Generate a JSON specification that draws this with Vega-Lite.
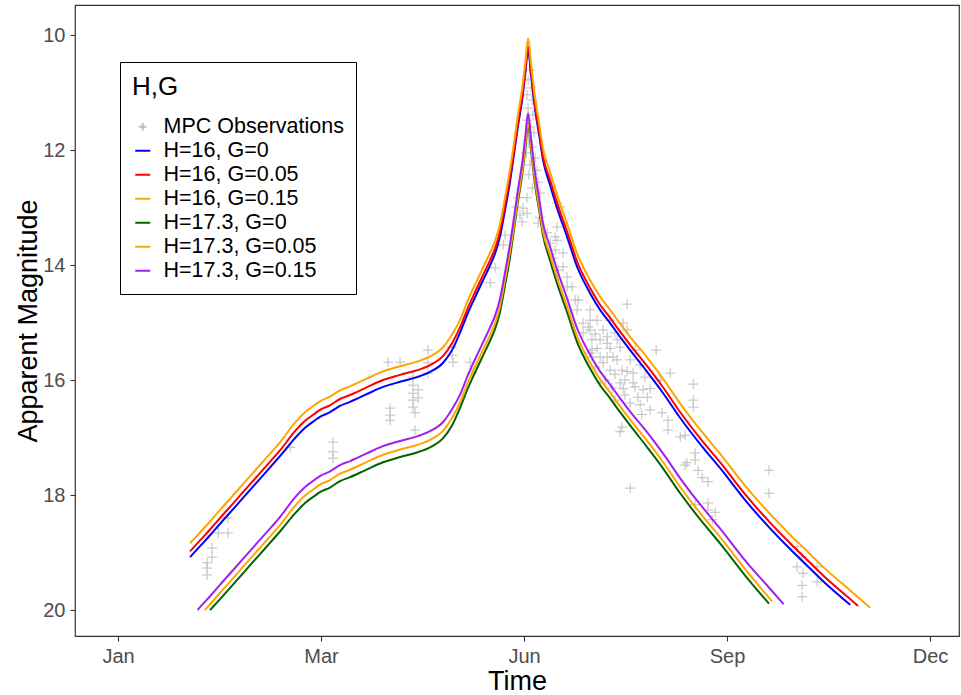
{
"$schema": "https://vega.github.io/schema/vega-lite/v6.json",
"width": 884, "height": 631,
"autosize": {"type": "none"},
"padding": {"left": 75, "top": 5, "right": 2, "bottom": 59},
"background": "white",
"config": {
  "font": "Liberation Sans",
  "view": {"stroke": "#333333", "strokeWidth": 1.2},
  "axis": {"grid": false, "domain": false, "tickColor": "#333333", "tickSize": 5, "tickWidth": 1.1, "labelColor": "#4D4D4D", "labelFontSize": 20, "labelFont": "Liberation Sans", "titleFont": "Liberation Sans", "titleFontSize": 27, "titleFontWeight": "normal", "titleColor": "black", "labelPadding": 5},
  "legend": {"titleFont": "Liberation Sans", "labelFont": "Liberation Sans", "titleFontSize": 26, "titleFontWeight": "normal", "titleColor": "black", "labelFontSize": 21.5, "labelColor": "black", "labelLimit": 400, "symbolSize": 225, "symbolStrokeWidth": 2, "rowPadding": 1, "padding": 12, "strokeColor": "black", "fillColor": "white", "cornerRadius": 0, "titlePadding": 16, "labelOffset": 10}
},
"datasets": {
"obs": [
{"day":32.9,"mag":19.18},{"day":32.9,"mag":19.27},{"day":32.9,"mag":19.39},{"day":34.7,"mag":18.92},{"day":34.7,"mag":19.08},{"day":37.0,"mag":18.66},{"day":40.6,"mag":18.40},{"day":40.6,"mag":18.66},
{"day":63.6,"mag":17.17},{"day":79.4,"mag":17.08},{"day":79.4,"mag":17.25},{"day":79.4,"mag":17.36},
{"day":99.8,"mag":15.69},{"day":104.2,"mag":15.69},{"day":100.5,"mag":16.49},{"day":100.5,"mag":16.61},{"day":100.5,"mag":16.70},
{"day":109.0,"mag":15.95},{"day":109.0,"mag":16.09},{"day":109.0,"mag":16.23},{"day":109.0,"mag":16.35},{"day":109.0,"mag":16.47},{"day":110.9,"mag":16.17},{"day":110.9,"mag":16.31},{"day":109.7,"mag":16.57},{"day":109.7,"mag":16.87},
{"day":114.5,"mag":15.48},{"day":114.5,"mag":15.70},{"day":114.5,"mag":15.88},{"day":123.4,"mag":15.43},{"day":123.4,"mag":15.57},{"day":123.8,"mag":15.69},{"day":130.1,"mag":15.69},{"day":130.8,"mag":15.88},
{"day":139.3,"mag":14.05},{"day":137.5,"mag":14.31},
{"day":152.2,"mag":10.61},{"day":151.5,"mag":10.78},{"day":152.6,"mag":10.92},{"day":151.1,"mag":11.04},{"day":153.0,"mag":11.13},{"day":151.5,"mag":11.27},{"day":153.3,"mag":11.39},{"day":151.1,"mag":11.48},{"day":152.2,"mag":11.60},{"day":153.7,"mag":11.70},{"day":151.5,"mag":11.83},{"day":153.0,"mag":11.95},{"day":150.8,"mag":12.05},{"day":154.1,"mag":12.14},{"day":152.2,"mag":12.26},{"day":154.8,"mag":12.35},{"day":151.8,"mag":12.43},{"day":155.2,"mag":12.56},{"day":153.0,"mag":12.66},{"day":155.9,"mag":12.75},{"day":151.1,"mag":12.83},
{"day":147.8,"mag":12.83},{"day":147.1,"mag":12.99},{"day":148.5,"mag":13.13},{"day":149.3,"mag":13.25},{"day":143.0,"mag":13.48},{"day":142.3,"mag":13.65},
{"day":162.2,"mag":12.92},{"day":163.3,"mag":12.99},{"day":162.2,"mag":13.34},{"day":162.2,"mag":13.57},{"day":155.9,"mag":13.17},{"day":149.6,"mag":13.01},{"day":151.1,"mag":13.10},
{"day":155.2,"mag":13.27},{"day":158.5,"mag":13.44},{"day":159.6,"mag":13.62},{"day":161.5,"mag":13.51},{"day":161.5,"mag":13.74},{"day":160.7,"mag":13.88},{"day":162.6,"mag":14.09},{"day":164.4,"mag":13.79},{"day":164.4,"mag":14.03},{"day":165.9,"mag":14.21},{"day":165.9,"mag":14.38},{"day":167.8,"mag":14.38},{"day":168.9,"mag":14.61},{"day":170.0,"mag":14.61},{"day":169.6,"mag":14.78},{"day":174.4,"mag":14.78},{"day":171.8,"mag":15.01},{"day":171.8,"mag":15.18},{"day":173.7,"mag":15.08},{"day":178.1,"mag":15.30},{"day":175.1,"mag":15.30},{"day":175.1,"mag":15.48},{"day":175.1,"mag":15.60},{"day":180.7,"mag":15.36},{"day":180.7,"mag":15.60},{"day":182.9,"mag":15.60},{"day":178.1,"mag":15.60},{"day":174.4,"mag":15.53},{"day":180.7,"mag":15.25},
{"day":177.0,"mag":14.96},{"day":179.2,"mag":15.13},{"day":181.8,"mag":14.96},{"day":183.6,"mag":15.18},{"day":185.5,"mag":15.43},{"day":184.4,"mag":15.65},{"day":186.2,"mag":15.83},{"day":187.3,"mag":16.00},{"day":181.8,"mag":15.83},{"day":180.0,"mag":16.00},{"day":182.5,"mag":16.14},{"day":189.2,"mag":15.65},{"day":190.3,"mag":15.88},{"day":191.0,"mag":16.12},{"day":192.1,"mag":16.30},{"day":194.0,"mag":16.17},{"day":194.7,"mag":15.95},{"day":192.9,"mag":16.43},{"day":195.5,"mag":16.30},{"day":196.6,"mag":16.52},{"day":188.1,"mag":14.68},{"day":186.6,"mag":15.01},{"day":188.1,"mag":15.13},{"day":174.4,"mag":14.96},{"day":174.4,"mag":15.13},{"day":176.3,"mag":15.77},{"day":178.1,"mag":16.05},{"day":183.6,"mag":16.35},{"day":187.3,"mag":16.26},{"day":191.0,"mag":15.48},{"day":192.9,"mag":15.74},{"day":185.5,"mag":16.05},
{"day":176.3,"mag":15.20},{"day":177.0,"mag":15.45},{"day":179.2,"mag":15.70},{"day":183.6,"mag":15.90},{"day":186.6,"mag":16.15},{"day":189.2,"mag":16.40},{"day":190.3,"mag":16.05},{"day":184.4,"mag":15.30},{"day":181.8,"mag":15.45},{"day":188.1,"mag":15.85},{"day":193.5,"mag":16.60},{"day":196.6,"mag":16.15},
{"day":198.8,"mag":15.48},{"day":204.0,"mag":15.88},{"day":212.5,"mag":16.07},{"day":212.5,"mag":16.35},{"day":212.5,"mag":16.47},{"day":200.3,"mag":16.00},{"day":201.0,"mag":16.57},{"day":203.2,"mag":16.70},{"day":203.2,"mag":16.87},{"day":207.7,"mag":16.99},{"day":209.5,"mag":16.96},{"day":186.2,"mag":16.82},{"day":185.5,"mag":16.90},{"day":189.2,"mag":17.88},
{"day":210.2,"mag":17.44},{"day":213.2,"mag":17.39},{"day":213.2,"mag":17.27},{"day":214.3,"mag":17.57},{"day":209.5,"mag":17.48},{"day":215.8,"mag":17.70},{"day":218.0,"mag":17.77},{"day":218.0,"mag":18.14},{"day":218.0,"mag":18.26},{"day":220.6,"mag":18.30},{"day":213.2,"mag":18.17},{"day":219.5,"mag":18.43},
{"day":240.5,"mag":17.57},{"day":240.5,"mag":17.97},{"day":250.9,"mag":18.90},{"day":252.7,"mag":19.08},{"day":250.9,"mag":19.25},{"day":253.1,"mag":19.36},{"day":252.7,"mag":19.57},{"day":252.7,"mag":19.77},{"day":258.3,"mag":19.25},{"day":258.3,"mag":19.51}
],
"curves": [
{"series":"H=16, G=0","day":26.6,"mag":19.08},{"series":"H=16, G=0","day":30.3,"mag":18.89},{"series":"H=16, G=0","day":34.0,"mag":18.70},{"series":"H=16, G=0","day":37.7,"mag":18.50},{"series":"H=16, G=0","day":43.2,"mag":18.21},{"series":"H=16, G=0","day":48.8,"mag":17.91},{"series":"H=16, G=0","day":54.3,"mag":17.62},{"series":"H=16, G=0","day":59.9,"mag":17.32},{"series":"H=16, G=0","day":65.4,"mag":17.01},{"series":"H=16, G=0","day":69.1,"mag":16.83},{"series":"H=16, G=0","day":72.8,"mag":16.70},{"series":"H=16, G=0","day":74.6,"mag":16.64},{"series":"H=16, G=0","day":78.3,"mag":16.56},{"series":"H=16, G=0","day":82.0,"mag":16.45},{"series":"H=16, G=0","day":85.7,"mag":16.38},{"series":"H=16, G=0","day":91.3,"mag":16.26},{"series":"H=16, G=0","day":97.9,"mag":16.12},{"series":"H=16, G=0","day":104.2,"mag":16.03},{"series":"H=16, G=0","day":110.5,"mag":15.95},{"series":"H=16, G=0","day":115.3,"mag":15.86},{"series":"H=16, G=0","day":120.1,"mag":15.70},{"series":"H=16, G=0","day":123.4,"mag":15.48},{"series":"H=16, G=0","day":126.4,"mag":15.17},{"series":"H=16, G=0","day":129.3,"mag":14.83},{"series":"H=16, G=0","day":131.9,"mag":14.56},{"series":"H=16, G=0","day":134.5,"mag":14.30},{"series":"H=16, G=0","day":137.5,"mag":14.00},{"series":"H=16, G=0","day":139.3,"mag":13.80},{"series":"H=16, G=0","day":141.1,"mag":13.51},{"series":"H=16, G=0","day":143.0,"mag":13.04},{"series":"H=16, G=0","day":144.8,"mag":12.56},{"series":"H=16, G=0","day":146.0,"mag":12.17},{"series":"H=16, G=0","day":147.8,"mag":11.57},{"series":"H=16, G=0","day":149.3,"mag":11.13},{"series":"H=16, G=0","day":150.4,"mag":10.70},{"series":"H=16, G=0","day":151.5,"mag":10.26},{"series":"H=16, G=0","day":152.6,"mag":10.70},{"series":"H=16, G=0","day":154.1,"mag":11.30},{"series":"H=16, G=0","day":155.6,"mag":11.74},{"series":"H=16, G=0","day":157.0,"mag":12.17},{"series":"H=16, G=0","day":159.6,"mag":12.61},{"series":"H=16, G=0","day":162.2,"mag":13.01},{"series":"H=16, G=0","day":165.9,"mag":13.51},{"series":"H=16, G=0","day":169.6,"mag":14.03},{"series":"H=16, G=0","day":174.4,"mag":14.49},{"series":"H=16, G=0","day":178.1,"mag":14.78},{"series":"H=16, G=0","day":181.8,"mag":15.01},{"series":"H=16, G=0","day":185.5,"mag":15.25},{"series":"H=16, G=0","day":189.2,"mag":15.48},{"series":"H=16, G=0","day":195.5,"mag":15.86},{"series":"H=16, G=0","day":201.4,"mag":16.23},{"series":"H=16, G=0","day":207.7,"mag":16.66},{"series":"H=16, G=0","day":216.2,"mag":17.18},{"series":"H=16, G=0","day":222.4,"mag":17.53},{"series":"H=16, G=0","day":231.7,"mag":18.09},{"series":"H=16, G=0","day":240.9,"mag":18.58},{"series":"H=16, G=0","day":248.3,"mag":18.94},{"series":"H=16, G=0","day":253.1,"mag":19.16},{"series":"H=16, G=0","day":261.2,"mag":19.53},{"series":"H=16, G=0","day":270.5,"mag":19.91},
{"series":"H=16, G=0.05","day":26.6,"mag":18.98},{"series":"H=16, G=0.05","day":30.3,"mag":18.79},{"series":"H=16, G=0.05","day":34.0,"mag":18.60},{"series":"H=16, G=0.05","day":37.7,"mag":18.40},{"series":"H=16, G=0.05","day":43.2,"mag":18.11},{"series":"H=16, G=0.05","day":48.8,"mag":17.81},{"series":"H=16, G=0.05","day":54.3,"mag":17.52},{"series":"H=16, G=0.05","day":59.9,"mag":17.22},{"series":"H=16, G=0.05","day":65.4,"mag":16.89},{"series":"H=16, G=0.05","day":69.1,"mag":16.71},{"series":"H=16, G=0.05","day":72.8,"mag":16.58},{"series":"H=16, G=0.05","day":74.6,"mag":16.52},{"series":"H=16, G=0.05","day":78.3,"mag":16.44},{"series":"H=16, G=0.05","day":82.0,"mag":16.33},{"series":"H=16, G=0.05","day":85.7,"mag":16.26},{"series":"H=16, G=0.05","day":91.3,"mag":16.14},{"series":"H=16, G=0.05","day":97.9,"mag":16.00},{"series":"H=16, G=0.05","day":104.2,"mag":15.91},{"series":"H=16, G=0.05","day":110.5,"mag":15.83},{"series":"H=16, G=0.05","day":115.3,"mag":15.74},{"series":"H=16, G=0.05","day":120.1,"mag":15.58},{"series":"H=16, G=0.05","day":123.4,"mag":15.36},{"series":"H=16, G=0.05","day":126.4,"mag":15.08},{"series":"H=16, G=0.05","day":129.3,"mag":14.74},{"series":"H=16, G=0.05","day":131.9,"mag":14.47},{"series":"H=16, G=0.05","day":134.5,"mag":14.21},{"series":"H=16, G=0.05","day":137.5,"mag":13.91},{"series":"H=16, G=0.05","day":139.3,"mag":13.71},{"series":"H=16, G=0.05","day":141.1,"mag":13.42},{"series":"H=16, G=0.05","day":143.0,"mag":12.95},{"series":"H=16, G=0.05","day":144.8,"mag":12.47},{"series":"H=16, G=0.05","day":146.0,"mag":12.11},{"series":"H=16, G=0.05","day":147.8,"mag":11.51},{"series":"H=16, G=0.05","day":149.3,"mag":11.07},{"series":"H=16, G=0.05","day":150.4,"mag":10.64},{"series":"H=16, G=0.05","day":151.5,"mag":10.20},{"series":"H=16, G=0.05","day":152.6,"mag":10.64},{"series":"H=16, G=0.05","day":154.1,"mag":11.24},{"series":"H=16, G=0.05","day":155.6,"mag":11.68},{"series":"H=16, G=0.05","day":157.0,"mag":12.11},{"series":"H=16, G=0.05","day":159.6,"mag":12.52},{"series":"H=16, G=0.05","day":162.2,"mag":12.92},{"series":"H=16, G=0.05","day":165.9,"mag":13.42},{"series":"H=16, G=0.05","day":169.6,"mag":13.94},{"series":"H=16, G=0.05","day":174.4,"mag":14.40},{"series":"H=16, G=0.05","day":178.1,"mag":14.69},{"series":"H=16, G=0.05","day":181.8,"mag":14.92},{"series":"H=16, G=0.05","day":185.5,"mag":15.16},{"series":"H=16, G=0.05","day":189.2,"mag":15.39},{"series":"H=16, G=0.05","day":195.5,"mag":15.76},{"series":"H=16, G=0.05","day":201.4,"mag":16.13},{"series":"H=16, G=0.05","day":207.7,"mag":16.56},{"series":"H=16, G=0.05","day":216.2,"mag":17.08},{"series":"H=16, G=0.05","day":222.4,"mag":17.43},{"series":"H=16, G=0.05","day":231.7,"mag":17.99},{"series":"H=16, G=0.05","day":240.9,"mag":18.48},{"series":"H=16, G=0.05","day":248.3,"mag":18.84},{"series":"H=16, G=0.05","day":253.1,"mag":19.06},{"series":"H=16, G=0.05","day":261.2,"mag":19.43},{"series":"H=16, G=0.05","day":270.5,"mag":19.81},{"series":"H=16, G=0.05","day":273.4,"mag":19.93},
{"series":"H=16, G=0.15","day":26.6,"mag":18.84},{"series":"H=16, G=0.15","day":30.3,"mag":18.65},{"series":"H=16, G=0.15","day":34.0,"mag":18.46},{"series":"H=16, G=0.15","day":37.7,"mag":18.26},{"series":"H=16, G=0.15","day":43.2,"mag":17.97},{"series":"H=16, G=0.15","day":48.8,"mag":17.67},{"series":"H=16, G=0.15","day":54.3,"mag":17.38},{"series":"H=16, G=0.15","day":59.9,"mag":17.08},{"series":"H=16, G=0.15","day":65.4,"mag":16.74},{"series":"H=16, G=0.15","day":69.1,"mag":16.56},{"series":"H=16, G=0.15","day":72.8,"mag":16.43},{"series":"H=16, G=0.15","day":74.6,"mag":16.37},{"series":"H=16, G=0.15","day":78.3,"mag":16.29},{"series":"H=16, G=0.15","day":82.0,"mag":16.18},{"series":"H=16, G=0.15","day":85.7,"mag":16.11},{"series":"H=16, G=0.15","day":91.3,"mag":15.99},{"series":"H=16, G=0.15","day":97.9,"mag":15.85},{"series":"H=16, G=0.15","day":104.2,"mag":15.76},{"series":"H=16, G=0.15","day":110.5,"mag":15.68},{"series":"H=16, G=0.15","day":115.3,"mag":15.59},{"series":"H=16, G=0.15","day":120.1,"mag":15.43},{"series":"H=16, G=0.15","day":123.4,"mag":15.21},{"series":"H=16, G=0.15","day":126.4,"mag":14.95},{"series":"H=16, G=0.15","day":129.3,"mag":14.61},{"series":"H=16, G=0.15","day":131.9,"mag":14.34},{"series":"H=16, G=0.15","day":134.5,"mag":14.08},{"series":"H=16, G=0.15","day":137.5,"mag":13.78},{"series":"H=16, G=0.15","day":139.3,"mag":13.58},{"series":"H=16, G=0.15","day":141.1,"mag":13.29},{"series":"H=16, G=0.15","day":143.0,"mag":12.82},{"series":"H=16, G=0.15","day":144.8,"mag":12.34},{"series":"H=16, G=0.15","day":146.0,"mag":11.97},{"series":"H=16, G=0.15","day":147.8,"mag":11.37},{"series":"H=16, G=0.15","day":149.3,"mag":10.93},{"series":"H=16, G=0.15","day":150.4,"mag":10.50},{"series":"H=16, G=0.15","day":151.5,"mag":10.06},{"series":"H=16, G=0.15","day":152.6,"mag":10.50},{"series":"H=16, G=0.15","day":154.1,"mag":11.10},{"series":"H=16, G=0.15","day":155.6,"mag":11.54},{"series":"H=16, G=0.15","day":157.0,"mag":11.97},{"series":"H=16, G=0.15","day":159.6,"mag":12.38},{"series":"H=16, G=0.15","day":162.2,"mag":12.78},{"series":"H=16, G=0.15","day":165.9,"mag":13.28},{"series":"H=16, G=0.15","day":169.6,"mag":13.80},{"series":"H=16, G=0.15","day":174.4,"mag":14.26},{"series":"H=16, G=0.15","day":178.1,"mag":14.55},{"series":"H=16, G=0.15","day":181.8,"mag":14.78},{"series":"H=16, G=0.15","day":185.5,"mag":15.02},{"series":"H=16, G=0.15","day":189.2,"mag":15.25},{"series":"H=16, G=0.15","day":195.5,"mag":15.61},{"series":"H=16, G=0.15","day":201.4,"mag":15.98},{"series":"H=16, G=0.15","day":207.7,"mag":16.41},{"series":"H=16, G=0.15","day":216.2,"mag":16.93},{"series":"H=16, G=0.15","day":222.4,"mag":17.28},{"series":"H=16, G=0.15","day":231.7,"mag":17.84},{"series":"H=16, G=0.15","day":240.9,"mag":18.33},{"series":"H=16, G=0.15","day":248.3,"mag":18.69},{"series":"H=16, G=0.15","day":253.1,"mag":18.91},{"series":"H=16, G=0.15","day":261.2,"mag":19.28},{"series":"H=16, G=0.15","day":270.5,"mag":19.66},{"series":"H=16, G=0.15","day":277.9,"mag":19.96},
{"series":"H=17.3, G=0","day":34.0,"mag":20.00},{"series":"H=17.3, G=0","day":37.7,"mag":19.81},{"series":"H=17.3, G=0","day":43.2,"mag":19.52},{"series":"H=17.3, G=0","day":48.8,"mag":19.22},{"series":"H=17.3, G=0","day":54.3,"mag":18.93},{"series":"H=17.3, G=0","day":59.9,"mag":18.63},{"series":"H=17.3, G=0","day":65.4,"mag":18.32},{"series":"H=17.3, G=0","day":69.1,"mag":18.14},{"series":"H=17.3, G=0","day":72.8,"mag":18.01},{"series":"H=17.3, G=0","day":74.6,"mag":17.95},{"series":"H=17.3, G=0","day":78.3,"mag":17.87},{"series":"H=17.3, G=0","day":82.0,"mag":17.76},{"series":"H=17.3, G=0","day":85.7,"mag":17.69},{"series":"H=17.3, G=0","day":91.3,"mag":17.57},{"series":"H=17.3, G=0","day":97.9,"mag":17.43},{"series":"H=17.3, G=0","day":104.2,"mag":17.34},{"series":"H=17.3, G=0","day":110.5,"mag":17.26},{"series":"H=17.3, G=0","day":115.3,"mag":17.17},{"series":"H=17.3, G=0","day":120.1,"mag":17.01},{"series":"H=17.3, G=0","day":123.4,"mag":16.79},{"series":"H=17.3, G=0","day":126.4,"mag":16.48},{"series":"H=17.3, G=0","day":129.3,"mag":16.14},{"series":"H=17.3, G=0","day":131.9,"mag":15.87},{"series":"H=17.3, G=0","day":134.5,"mag":15.61},{"series":"H=17.3, G=0","day":137.5,"mag":15.31},{"series":"H=17.3, G=0","day":139.3,"mag":15.11},{"series":"H=17.3, G=0","day":141.1,"mag":14.82},{"series":"H=17.3, G=0","day":143.0,"mag":14.35},{"series":"H=17.3, G=0","day":144.8,"mag":13.87},{"series":"H=17.3, G=0","day":146.0,"mag":13.48},{"series":"H=17.3, G=0","day":147.8,"mag":12.88},{"series":"H=17.3, G=0","day":149.3,"mag":12.44},{"series":"H=17.3, G=0","day":150.4,"mag":12.01},{"series":"H=17.3, G=0","day":151.5,"mag":11.57},{"series":"H=17.3, G=0","day":152.6,"mag":12.01},{"series":"H=17.3, G=0","day":154.1,"mag":12.61},{"series":"H=17.3, G=0","day":155.6,"mag":13.05},{"series":"H=17.3, G=0","day":157.0,"mag":13.48},{"series":"H=17.3, G=0","day":159.6,"mag":13.92},{"series":"H=17.3, G=0","day":162.2,"mag":14.32},{"series":"H=17.3, G=0","day":165.9,"mag":14.82},{"series":"H=17.3, G=0","day":169.6,"mag":15.34},{"series":"H=17.3, G=0","day":174.4,"mag":15.80},{"series":"H=17.3, G=0","day":178.1,"mag":16.09},{"series":"H=17.3, G=0","day":181.8,"mag":16.32},{"series":"H=17.3, G=0","day":185.5,"mag":16.56},{"series":"H=17.3, G=0","day":189.2,"mag":16.79},{"series":"H=17.3, G=0","day":195.5,"mag":17.17},{"series":"H=17.3, G=0","day":201.4,"mag":17.54},{"series":"H=17.3, G=0","day":207.7,"mag":17.97},{"series":"H=17.3, G=0","day":216.2,"mag":18.49},{"series":"H=17.3, G=0","day":222.4,"mag":18.84},{"series":"H=17.3, G=0","day":231.7,"mag":19.40},{"series":"H=17.3, G=0","day":240.5,"mag":19.89},
{"series":"H=17.3, G=0.05","day":32.0,"mag":20.00},{"series":"H=17.3, G=0.05","day":34.0,"mag":19.90},{"series":"H=17.3, G=0.05","day":37.7,"mag":19.70},{"series":"H=17.3, G=0.05","day":43.2,"mag":19.41},{"series":"H=17.3, G=0.05","day":48.8,"mag":19.11},{"series":"H=17.3, G=0.05","day":54.3,"mag":18.82},{"series":"H=17.3, G=0.05","day":59.9,"mag":18.52},{"series":"H=17.3, G=0.05","day":65.4,"mag":18.19},{"series":"H=17.3, G=0.05","day":69.1,"mag":18.01},{"series":"H=17.3, G=0.05","day":72.8,"mag":17.88},{"series":"H=17.3, G=0.05","day":74.6,"mag":17.82},{"series":"H=17.3, G=0.05","day":78.3,"mag":17.74},{"series":"H=17.3, G=0.05","day":82.0,"mag":17.63},{"series":"H=17.3, G=0.05","day":85.7,"mag":17.56},{"series":"H=17.3, G=0.05","day":91.3,"mag":17.44},{"series":"H=17.3, G=0.05","day":97.9,"mag":17.30},{"series":"H=17.3, G=0.05","day":104.2,"mag":17.21},{"series":"H=17.3, G=0.05","day":110.5,"mag":17.13},{"series":"H=17.3, G=0.05","day":115.3,"mag":17.04},{"series":"H=17.3, G=0.05","day":120.1,"mag":16.88},{"series":"H=17.3, G=0.05","day":123.4,"mag":16.66},{"series":"H=17.3, G=0.05","day":126.4,"mag":16.38},{"series":"H=17.3, G=0.05","day":129.3,"mag":16.04},{"series":"H=17.3, G=0.05","day":131.9,"mag":15.77},{"series":"H=17.3, G=0.05","day":134.5,"mag":15.51},{"series":"H=17.3, G=0.05","day":137.5,"mag":15.21},{"series":"H=17.3, G=0.05","day":139.3,"mag":15.01},{"series":"H=17.3, G=0.05","day":141.1,"mag":14.72},{"series":"H=17.3, G=0.05","day":143.0,"mag":14.25},{"series":"H=17.3, G=0.05","day":144.8,"mag":13.77},{"series":"H=17.3, G=0.05","day":146.0,"mag":13.41},{"series":"H=17.3, G=0.05","day":147.8,"mag":12.81},{"series":"H=17.3, G=0.05","day":149.3,"mag":12.37},{"series":"H=17.3, G=0.05","day":150.4,"mag":11.94},{"series":"H=17.3, G=0.05","day":151.5,"mag":11.50},{"series":"H=17.3, G=0.05","day":152.6,"mag":11.94},{"series":"H=17.3, G=0.05","day":154.1,"mag":12.54},{"series":"H=17.3, G=0.05","day":155.6,"mag":12.98},{"series":"H=17.3, G=0.05","day":157.0,"mag":13.41},{"series":"H=17.3, G=0.05","day":159.6,"mag":13.82},{"series":"H=17.3, G=0.05","day":162.2,"mag":14.22},{"series":"H=17.3, G=0.05","day":165.9,"mag":14.72},{"series":"H=17.3, G=0.05","day":169.6,"mag":15.24},{"series":"H=17.3, G=0.05","day":174.4,"mag":15.70},{"series":"H=17.3, G=0.05","day":178.1,"mag":15.99},{"series":"H=17.3, G=0.05","day":181.8,"mag":16.22},{"series":"H=17.3, G=0.05","day":185.5,"mag":16.46},{"series":"H=17.3, G=0.05","day":189.2,"mag":16.69},{"series":"H=17.3, G=0.05","day":195.5,"mag":17.06},{"series":"H=17.3, G=0.05","day":201.4,"mag":17.43},{"series":"H=17.3, G=0.05","day":207.7,"mag":17.86},{"series":"H=17.3, G=0.05","day":216.2,"mag":18.38},{"series":"H=17.3, G=0.05","day":222.4,"mag":18.73},{"series":"H=17.3, G=0.05","day":231.7,"mag":19.29},{"series":"H=17.3, G=0.05","day":241.6,"mag":19.85},
{"series":"H=17.3, G=0.15","day":29.4,"mag":20.00},{"series":"H=17.3, G=0.15","day":30.3,"mag":19.95},{"series":"H=17.3, G=0.15","day":34.0,"mag":19.76},{"series":"H=17.3, G=0.15","day":37.7,"mag":19.56},{"series":"H=17.3, G=0.15","day":43.2,"mag":19.27},{"series":"H=17.3, G=0.15","day":48.8,"mag":18.97},{"series":"H=17.3, G=0.15","day":54.3,"mag":18.68},{"series":"H=17.3, G=0.15","day":59.9,"mag":18.38},{"series":"H=17.3, G=0.15","day":65.4,"mag":18.04},{"series":"H=17.3, G=0.15","day":69.1,"mag":17.86},{"series":"H=17.3, G=0.15","day":72.8,"mag":17.73},{"series":"H=17.3, G=0.15","day":74.6,"mag":17.67},{"series":"H=17.3, G=0.15","day":78.3,"mag":17.59},{"series":"H=17.3, G=0.15","day":82.0,"mag":17.48},{"series":"H=17.3, G=0.15","day":85.7,"mag":17.41},{"series":"H=17.3, G=0.15","day":91.3,"mag":17.29},{"series":"H=17.3, G=0.15","day":97.9,"mag":17.15},{"series":"H=17.3, G=0.15","day":104.2,"mag":17.06},{"series":"H=17.3, G=0.15","day":110.5,"mag":16.98},{"series":"H=17.3, G=0.15","day":115.3,"mag":16.89},{"series":"H=17.3, G=0.15","day":120.1,"mag":16.73},{"series":"H=17.3, G=0.15","day":123.4,"mag":16.51},{"series":"H=17.3, G=0.15","day":126.4,"mag":16.25},{"series":"H=17.3, G=0.15","day":129.3,"mag":15.91},{"series":"H=17.3, G=0.15","day":131.9,"mag":15.64},{"series":"H=17.3, G=0.15","day":134.5,"mag":15.38},{"series":"H=17.3, G=0.15","day":137.5,"mag":15.08},{"series":"H=17.3, G=0.15","day":139.3,"mag":14.88},{"series":"H=17.3, G=0.15","day":141.1,"mag":14.59},{"series":"H=17.3, G=0.15","day":143.0,"mag":14.12},{"series":"H=17.3, G=0.15","day":144.8,"mag":13.64},{"series":"H=17.3, G=0.15","day":146.0,"mag":13.27},{"series":"H=17.3, G=0.15","day":147.8,"mag":12.67},{"series":"H=17.3, G=0.15","day":149.3,"mag":12.23},{"series":"H=17.3, G=0.15","day":150.4,"mag":11.80},{"series":"H=17.3, G=0.15","day":151.5,"mag":11.36},{"series":"H=17.3, G=0.15","day":152.6,"mag":11.80},{"series":"H=17.3, G=0.15","day":154.1,"mag":12.40},{"series":"H=17.3, G=0.15","day":155.6,"mag":12.84},{"series":"H=17.3, G=0.15","day":157.0,"mag":13.27},{"series":"H=17.3, G=0.15","day":159.6,"mag":13.68},{"series":"H=17.3, G=0.15","day":162.2,"mag":14.08},{"series":"H=17.3, G=0.15","day":165.9,"mag":14.58},{"series":"H=17.3, G=0.15","day":169.6,"mag":15.10},{"series":"H=17.3, G=0.15","day":174.4,"mag":15.56},{"series":"H=17.3, G=0.15","day":178.1,"mag":15.85},{"series":"H=17.3, G=0.15","day":181.8,"mag":16.08},{"series":"H=17.3, G=0.15","day":185.5,"mag":16.32},{"series":"H=17.3, G=0.15","day":189.2,"mag":16.55},{"series":"H=17.3, G=0.15","day":195.5,"mag":16.91},{"series":"H=17.3, G=0.15","day":201.4,"mag":17.28},{"series":"H=17.3, G=0.15","day":207.7,"mag":17.71},{"series":"H=17.3, G=0.15","day":216.2,"mag":18.23},{"series":"H=17.3, G=0.15","day":222.4,"mag":18.58},{"series":"H=17.3, G=0.15","day":231.7,"mag":19.14},{"series":"H=17.3, G=0.15","day":240.9,"mag":19.63},{"series":"H=17.3, G=0.15","day":245.9,"mag":19.90}
]
},
"encoding": {
  "x": {"field": "day", "type": "quantitative", "title": "Time",
        "scale": {"domain": [-15.9, 310.7], "nice": false, "zero": false},
        "axis": {"values": [0, 75, 150, 225, 300], "labelExpr": "datum.value == 0 ? 'Jan' : datum.value == 75 ? 'Mar' : datum.value == 150 ? 'Jun' : datum.value == 225 ? 'Sep' : 'Dec'", "titlePadding": 2}},
  "y": {"field": "mag", "type": "quantitative", "title": "Apparent Magnitude",
        "scale": {"domain": [9.478, 20.452], "nice": false, "zero": false, "reverse": true},
        "axis": {"values": [10, 12, 14, 16, 18, 20], "titlePadding": 0}}
},
"layer": [
  {
    "data": {"name": "obs"},
    "mark": {"type": "point", "filled": false, "strokeWidth": 1, "size": 400, "opacity": 1},
    "encoding": {
      "color": {"datum": "MPC Observations", "type": "nominal",
        "scale": {"domain": ["MPC Observations", "H=16, G=0", "H=16, G=0.05", "H=16, G=0.15", "H=17.3, G=0", "H=17.3, G=0.05", "H=17.3, G=0.15"], "range": ["#BEBEBE", "#0000FF", "#FF0000", "#FFA500", "#006400", "#FFA500", "#A020F0"]},
        "legend": {"title": "H,G", "orient": "none", "legendX": 45, "legendY": 57}},
      "shape": {"datum": "MPC Observations", "type": "nominal",
        "scale": {"domain": ["MPC Observations", "H=16, G=0", "H=16, G=0.05", "H=16, G=0.15", "H=17.3, G=0", "H=17.3, G=0.05", "H=17.3, G=0.15"], "range": ["M-0.5,0H0.5M0,-0.5V0.5", "stroke", "stroke", "stroke", "stroke", "stroke", "stroke"]},
        "legend": {"title": "H,G", "orient": "none", "legendX": 45, "legendY": 57}}
    }
  },
  {
    "data": {"name": "curves"},
    "mark": {"type": "line", "strokeWidth": 2, "interpolate": "monotone"},
    "encoding": {
      "color": {"field": "series", "type": "nominal"},
      "order": {"field": "day", "type": "quantitative"}
    }
  }
]
}
